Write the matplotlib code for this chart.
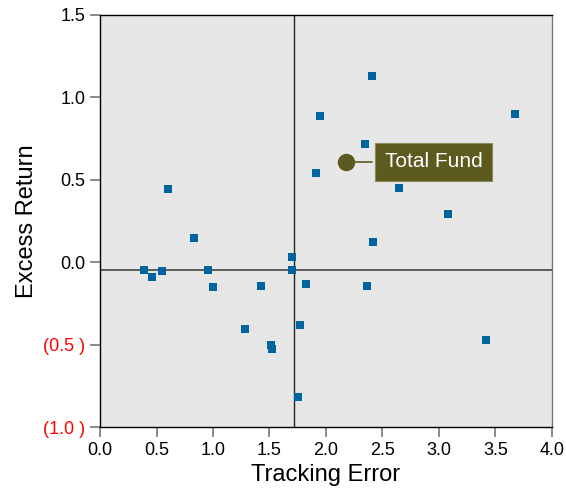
import numpy as np
import matplotlib
matplotlib.use("Agg")
import matplotlib.pyplot as plt

plt.rcParams['font.family'] = ['Liberation Sans', 'DejaVu Sans']

# managers: tracking error vs excess return
track_err = [0.385, 0.456, 0.545, 0.598, 0.829, 0.954, 0.998, 1.283, 1.425,
             1.514, 1.523, 1.701, 1.701, 1.754, 1.772, 1.825, 1.914, 1.950,
             2.349, 2.367, 2.403, 2.412, 2.643, 3.078, 3.416, 3.674]
excess_ret = [-0.049, -0.092, -0.055, 0.442, 0.145, -0.049, -0.152, -0.407, -0.146,
              -0.504, -0.529, 0.030, -0.049, -0.820, -0.383, -0.134, 0.539, 0.885,
              0.715, -0.146, 1.128, 0.121, 0.448, 0.291, -0.474, 0.897]

fund_x = 2.178
fund_y = 0.608
fund_label = "Total Fund"

# median lines
med_x = 1.716
med_y = -0.049

xticks = [0.0, 0.5, 1.0, 1.5, 2.0, 2.5, 3.0, 3.5, 4.0]
yticks = [-1.0, -0.5, 0.0, 0.5, 1.0, 1.5]
ylabels = ["(1.0 )", "(0.5 )", "0.0", "0.5", "1.0", "1.5"]

fig = plt.figure(figsize=(5.66, 4.91), dpi=100)
ax = fig.add_axes([0.1767, 0.1303, 0.7985, 0.8392])
ax.set_facecolor('#e7e7e7')

ax.axvline(med_x, color='#222222', lw=1.0, zorder=2)
ax.axhline(med_y, color='#444444', lw=1.2, zorder=2)

ax.plot(track_err, excess_ret, 's', color='#00649e', ms=5.3, mew=0, zorder=3)

ax.plot(fund_x, fund_y, 'o', color='#5c5a1e', ms=11.5, zorder=4)
ax.annotate(fund_label, xy=(fund_x, fund_y), xytext=(fund_x + 0.34, fund_y),
            va='center', ha='left', color='white', fontsize=15,
            bbox=dict(boxstyle='square,pad=0.45', fc='#5c5a1e', ec='#8a8a5a', lw=0.8),
            arrowprops=dict(arrowstyle='-', color='#5c5a1e', lw=1.2), zorder=5)

ax.set_xlim(0, 4.0)
ax.set_ylim(-1.0, 1.5)
ax.set_xticks(xticks)
ax.set_xticklabels([f"{t:.1f}" for t in xticks])
ax.set_yticks(yticks)
ax.set_yticklabels(ylabels)
for lab, t in zip(ax.get_yticklabels(), yticks):
    if t < 0:
        lab.set_color('red')

ax.tick_params(direction='out', length=7, width=1.2, color='#777777', labelsize=13)
ax.spines['left'].set_color('black')
ax.spines['bottom'].set_color('black')
ax.spines['top'].set_color('black')
ax.spines['right'].set_color('#777777')
for s in ax.spines.values():
    s.set_linewidth(1.0)

ax.set_xlabel('Tracking Error', fontsize=17)
ax.set_ylabel('Excess Return', fontsize=17)

plt.savefig('out.png', dpi=100)
